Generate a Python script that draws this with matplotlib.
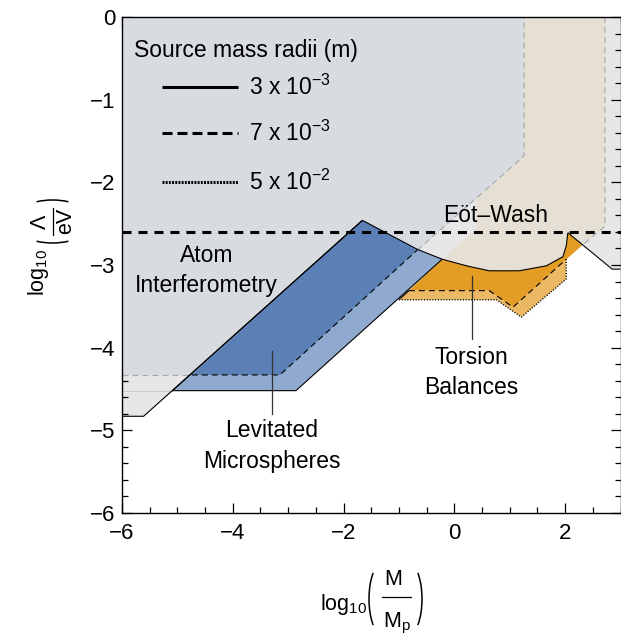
import matplotlib
matplotlib.use('Agg')
import math
import matplotlib.pyplot as plt
from matplotlib.ticker import MultipleLocator
from matplotlib.patches import Arc
from matplotlib.lines import Line2D
from matplotlib.transforms import IdentityTransform

plt.rcParams['font.family'] = ['Liberation Sans', 'DejaVu Sans']
plt.rcParams['mathtext.fontset'] = 'custom'
plt.rcParams['mathtext.rm'] = 'Liberation Sans'
plt.rcParams['mathtext.it'] = 'Liberation Sans:italic'
plt.rcParams['mathtext.bf'] = 'Liberation Sans:bold'
plt.rcParams['mathtext.sf'] = 'Liberation Sans'
plt.rcParams['mathtext.default'] = 'rm'
plt.rcParams['lines.scale_dashes'] = False

# ---------------- data (log10 M/Mp, log10 Lambda/eV) ----------------
# common upper boundary curve (solid)
curve_x = [-1.66, -1.15, -0.67, -0.22, 0.22, 0.63, 1.17, 1.66, 1.96, 2.02, 2.05]
curve_y = [-2.46, -2.64, -2.81, -2.93, -3.01, -3.07, -3.07, -3.01, -2.90, -2.77, -2.61]

# outer light-grey excluded region, lower-left and right solid edges
grey_left_x = [-6.0, -5.61, -1.66]
grey_left_y = [-4.83, -4.83, -2.46]
grey_right_x = [2.05, 2.85, 3.0]
grey_right_y = [-2.61, -3.05, -3.05]

# atom interferometry region (dashed boundary)
atom_x = [-6.0, 1.26, 1.26, -3.15, -6.0]
atom_y = [0.0, 0.0, -1.68, -4.33, -4.33]

# beige region
beige_x = [1.26, 2.72, 2.72, 2.31, 2.05]
beige_y = [0.0, 0.0, -2.53, -2.76, -2.61]
beige_left_x = [-0.22, 0.40, 0.40, 1.26]
beige_left_y = [-2.93, -2.56, -2.20, -1.68]

# levitated microspheres
lev_solid_x = [-1.66, -5.09, -2.86, -0.22]
lev_solid_y = [-2.46, -4.52, -4.52, -2.93]
lev_dash_x = [-1.66, -4.74, -3.15, -0.67]
lev_dash_y = [-2.46, -4.33, -4.33, -2.82]

# torsion balances
tor_dash_x = [2.05, 2.31, 1.06, 0.63, -0.82, -0.22]
tor_dash_y = [-2.61, -2.76, -3.51, -3.31, -3.31, -2.93]
tor_dot_x = [-1.00, 0.76, 1.21, 2.02, 2.02, 1.06, 0.63, -0.82]
tor_dot_y = [-3.42, -3.42, -3.63, -3.17, -2.93, -3.51, -3.31, -3.31]

eotwash_y = -2.60

legend_labels = [r'3 x 10$^{-3}$', r'7 x 10$^{-3}$', r'5 x 10$^{-2}$']

# colours
c_lgrey = '#e7e7e7'
c_atom = '#d8dce1'
c_beige = '#e5dfd4'
c_lblue = '#8faace'
c_dblue = '#5b80b5'
c_dorange = '#e39d24'
c_lorange = '#ebb964'

W, H = 621, 637
fig = plt.figure(figsize=(W / 100, H / 100), dpi=100)
ax = fig.add_axes([122 / W, 124 / H, 498.5 / W, 496 / H])
ax.set_xlim(-6, 3)
ax.set_ylim(-6, 0)

# light grey region
lg_x = [-6, 3, 3] + grey_right_x[::-1] + curve_x[::-1][1:] + grey_left_x[::-1][1:]
lg_y = [0, 0, grey_right_y[-1]] + grey_right_y[::-1] + curve_y[::-1][1:] + grey_left_y[::-1][1:]
ax.fill(lg_x, lg_y, color=c_lgrey, lw=0, zorder=1)

# atom interferometry
ax.fill(atom_x, atom_y, color=c_atom, lw=0, zorder=2)

# beige
cseg = [(x, y) for x, y in zip(curve_x, curve_y) if x >= -0.22]
b_x = beige_x + [p[0] for p in cseg[::-1]] + beige_left_x[1:]
b_y = beige_y + [p[1] for p in cseg[::-1]] + beige_left_y[1:]
ax.fill(b_x, b_y, color=c_beige, lw=0, zorder=2)

# levitated microspheres
seg_s = [(x, y) for x, y in zip(curve_x, curve_y) if x <= -0.22]
ls_x = lev_solid_x + [p[0] for p in seg_s[::-1]][1:]
ls_y = lev_solid_y + [p[1] for p in seg_s[::-1]][1:]
ax.fill(ls_x, ls_y, color=c_lblue, lw=0, zorder=3)
seg_d = [(x, y) for x, y in zip(curve_x, curve_y) if x <= -0.67]
ld_x = lev_dash_x + [p[0] for p in seg_d[::-1]][1:]
ld_y = lev_dash_y + [p[1] for p in seg_d[::-1]][1:]
ax.fill(ld_x, ld_y, color=c_dblue, lw=0, zorder=4)

# torsion balances
ax.fill(tor_dot_x, tor_dot_y, color=c_lorange, lw=0, zorder=3)
seg_t = [(x, y) for x, y in zip(curve_x, curve_y) if x >= -0.22]
td_x = [p[0] for p in seg_t] + tor_dash_x[1:]
td_y = [p[1] for p in seg_t] + tor_dash_y[1:]
ax.fill(td_x, td_y, color=c_dorange, lw=0, zorder=4)

# ---------------- edges ----------------
k = dict(color='black', lw=0.8, zorder=6, solid_capstyle='butt')
ax.plot(curve_x, curve_y, **k)
ax.plot(grey_left_x, grey_left_y, **k)
ax.plot(grey_right_x, grey_right_y, **k)
ax.plot(lev_solid_x, lev_solid_y, **k)
ax.plot([tor_dot_x[0], tor_dot_x[-1]], [tor_dot_y[0], tor_dot_y[-1]], **k)
# faint continuation line
ax.plot([-6.0, lev_solid_x[1]], [lev_solid_y[1], lev_solid_y[1]], color='#c4c4c4', lw=0.6, zorder=5)

dash = (0, (4.3, 2.9))
ax.plot(lev_dash_x[1:], lev_dash_y[1:], color='black', lw=0.8, linestyle=dash, zorder=6)
ax.plot([atom_x[-1], lev_dash_x[1]], [atom_y[-1], lev_dash_y[1]], color='#a8a8a8', lw=0.8,
        linestyle=dash, zorder=5)
ax.plot([lev_dash_x[3], atom_x[2], atom_x[1]], [lev_dash_y[3], atom_y[2], atom_y[1]], color='#a8a8a8',
        lw=0.8, linestyle=dash, zorder=5)
ax.plot([beige_x[1], beige_x[2], beige_x[3]], [beige_y[1], beige_y[2], beige_y[3]], color='#a8a8a8',
        lw=0.8, linestyle=dash, zorder=5)
ax.plot([tor_dash_x[4], tor_dash_x[3], tor_dash_x[2], tor_dot_x[4]],
        [tor_dash_y[4], tor_dash_y[3], tor_dash_y[2], tor_dot_y[4]],
        color='black', lw=0.8, linestyle=dash, zorder=6)
ax.plot(tor_dot_x[:5], tor_dot_y[:5], color='black', lw=1.0, linestyle=(0, (0.8, 1.2)), zorder=6)

# Eöt-Wash line
ax.axhline(eotwash_y, color='black', lw=2.2, linestyle=(0, (6.5, 5.0)), zorder=7)

# ---------------- text ----------------
fs = 16.5
ax.text(-4.47, -3.07, 'Atom\nInterferometry', ha='center', va='center', fontsize=fs,
        linespacing=1.4, zorder=8)
ax.text(-3.30, -5.19, 'Levitated\nMicrospheres', ha='center', va='center', fontsize=fs,
        linespacing=1.4, zorder=8)
ax.plot([-3.30, -3.30], [-4.04, -4.80], color='#333333', lw=0.9, zorder=8)
ax.text(0.31, -4.30, 'Torsion\nBalances', ha='center', va='center', fontsize=fs,
        linespacing=1.4, zorder=8)
ax.plot([0.31, 0.31], [-3.13, -3.89], color='#333333', lw=0.9, zorder=8)
ax.text(0.74, -2.40, 'Eöt–Wash', ha='center', va='center', fontsize=fs, zorder=8)

# legend (manual)
ax.text(0.024, 0.933, 'Source mass radii (m)', transform=ax.transAxes, ha='left', va='center',
        fontsize=fs, zorder=9)
styles = ['-', (0, (7.2, 3.6)), (0, (1.4, 0.9))]
ys = [0.859, 0.766, 0.667]
for st, yy, lab in zip(styles, ys, legend_labels):
    ax.plot([0.080, 0.233], [yy, yy], transform=ax.transAxes, color='black', lw=2.2,
            linestyle=st, zorder=9, solid_capstyle='butt')
    ax.text(0.255, yy, lab, transform=ax.transAxes, ha='left', va='center', fontsize=fs, zorder=9)

# ---------------- axes ----------------
ax.xaxis.set_major_locator(MultipleLocator(2))
ax.xaxis.set_minor_locator(MultipleLocator(0.5))
ax.yaxis.set_major_locator(MultipleLocator(1))
ax.yaxis.set_minor_locator(MultipleLocator(0.2))
ax.tick_params(which='both', direction='in', top=True, right=True, colors='black', width=0.9)
ax.tick_params(which='major', length=7, labelsize=16)
ax.tick_params(axis='x', which='major', pad=7)
ax.tick_params(axis='y', which='major', pad=5)
ax.tick_params(which='minor', length=4)
for s in ax.spines.values():
    s.set_linewidth(1.0)
    s.set_zorder(10)

# ---------------- axis labels (composed, pixel coordinates, origin bottom-left) ----------------
T = IdentityTransform()
lfs = 15.5


def paren(edge, centre, span, depth, side):
    """Thin tall parenthesis drawn as an elliptical arc."""
    a_ang = 70.0
    b = (span / 2) / math.sin(math.radians(a_ang))
    a = depth / (1 - math.cos(math.radians(a_ang)))
    if side == 'l':
        arc = Arc((edge + a, centre), 2 * a, 2 * b, theta1=180 - a_ang, theta2=180 + a_ang)
    elif side == 'r':
        arc = Arc((edge - a, centre), 2 * a, 2 * b, theta1=-a_ang, theta2=a_ang)
    elif side == 'b':
        arc = Arc((centre, edge + a), 2 * b, 2 * a, theta1=270 - a_ang, theta2=270 + a_ang)
    else:
        arc = Arc((centre, edge - a), 2 * b, 2 * a, theta1=90 - a_ang, theta2=90 + a_ang)
    arc.set_transform(T)
    arc.set_color('black')
    arc.set_linewidth(1.1)
    fig.add_artist(arc)


# x label
fig.text(367, H - 610, r'log$_{10}$', transform=T, ha='right', va='baseline', fontsize=lfs)
paren(369, H - 599, 68, 9, 'l')
paren(422, H - 599, 68, 9, 'r')
fig.text(393, H - 585, 'M', transform=T, ha='center', va='baseline', fontsize=lfs)
fig.add_artist(Line2D([382, 411], [H - 597, H - 597], transform=T, color='black', lw=0.9))
fig.text(383, H - 627, r'M$_\mathrm{p}$', transform=T, ha='left', va='baseline', fontsize=lfs)

# y label (rotated)
fig.text(44, H - 296, r'log$_{10}$', transform=T, rotation=90, rotation_mode='anchor',
         ha='left', va='baseline', fontsize=lfs)
paren(H - 243, 52.5, 46, 5, 'b')
paren(H - 200, 52.5, 46, 5, 't')
fig.text(40, H - 222, 'Λ', transform=T, rotation=90, ha='center', va='center', fontsize=lfs)
fig.add_artist(Line2D([53, 53], [H - 235, H - 208], transform=T, color='black', lw=0.9))
fig.text(66, H - 221, 'eV', transform=T, rotation=90, ha='center', va='center', fontsize=lfs)

fig.savefig('out.png', dpi=100)
